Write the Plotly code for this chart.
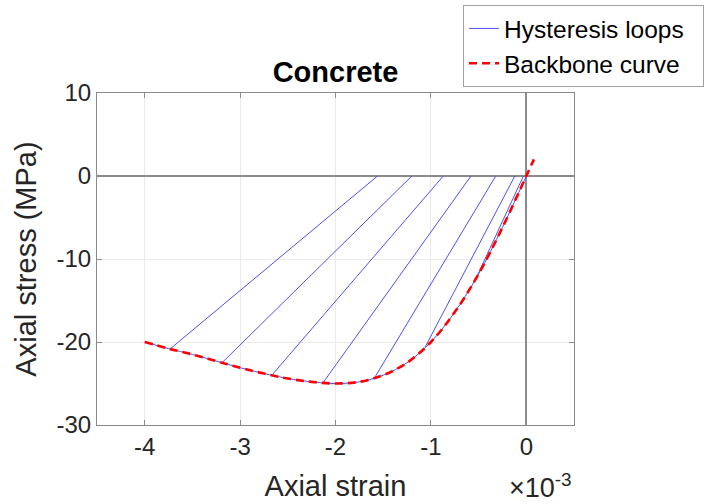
import plotly.graph_objects as go

# Backbone curve (strain in units of 1e-3, stress in MPa)
backbone_strain = [-4.0, -3.75, -3.5, -3.25, -3.0, -2.75, -2.5, -2.25, -2.0, -1.75,
                   -1.5, -1.25, -1.0, -0.75, -0.5, -0.25, 0.0, 0.08]
backbone_stress = [-20.0, -20.8, -21.5, -22.3, -23.1, -23.8, -24.4, -24.8, -25.0, -24.8,
                   -24.0, -22.5, -20.0, -16.4, -11.8, -6.2, 0.0, 2.0]

# Hysteresis loops: unloading point on backbone -> zero-stress point
unload_strain = [-0.55, -1.06, -1.59, -2.13, -2.66, -3.19, -3.73]
unload_stress = [-12.9, -20.6, -24.3, -24.9, -23.9, -22.5, -20.8]
zero_strain = [-0.03, -0.12, -0.32, -0.58, -0.87, -1.20, -1.56]

x_ticks = [-4, -3, -2, -1, 0]
x_tick_labels = ["-4", "-3", "-2", "-1", "0"]
y_ticks = [-30, -20, -10, 0, 10]
y_tick_labels = ["-30", "-20", "-10", "0", "10"]

FONT = "Liberation Sans, Arial, Helvetica, sans-serif"
BLUE = "rgb(80,80,240)"
GREY = "#8a8a8a"
PAD = "\u00a0\u00a0"

loop_x, loop_y = [], []
for xs, ys, xz in zip(unload_strain, unload_stress, zero_strain):
    loop_x += [xs, xz, None]
    loop_y += [ys, 0.0, None]

# blue envelope part follows backbone (up to origin)
env_x = [v for v in backbone_strain if v <= 0]
env_y = [s for v, s in zip(backbone_strain, backbone_stress) if v <= 0]

fig = go.Figure()
fig.add_trace(go.Scatter(x=env_x, y=env_y, mode="lines", line=dict(color=BLUE, width=1, shape="spline"),
                         name="Hysteresis loops", legendgroup="a", showlegend=False, hoverinfo="skip"))
fig.add_trace(go.Scatter(x=loop_x, y=loop_y, mode="lines", line=dict(color=BLUE, width=1),
                         name="Hysteresis loops" + PAD, legendgroup="a", showlegend=True))
fig.add_trace(go.Scatter(x=backbone_strain, y=backbone_stress, mode="lines",
                         line=dict(color="#ff0000", width=2.6, dash="8px,5px", shape="spline"),
                         name="Backbone curve", legendgroup="b"))

axis_common = dict(
    showline=True, linecolor=GREY, linewidth=1, mirror="ticks",
    ticks="inside", ticklen=5, tickcolor=GREY, tickwidth=1,
    showgrid=True, gridcolor="#ebebeb", gridwidth=1,
    zeroline=True, zerolinecolor=GREY, zerolinewidth=1.5,
    tickfont=dict(family=FONT, size=24, color="#262626"),
    automargin=False,
)

fig.update_layout(
    width=704, height=504,
    margin=dict(l=97, r=130, t=93, b=79, autoexpand=False),
    paper_bgcolor="white", plot_bgcolor="white",
    font=dict(family=FONT, color="#262626"),
    title=dict(text="<b>Concrete</b>", x=0.5 * (97 + 574) / 704, xanchor="center",
               y=1 - 72 / 504, yanchor="middle", yref="container",
               font=dict(family=FONT, size=29, color="#000000")),
    xaxis=dict(range=[-4.5, 0.5], tickvals=x_ticks, ticktext=x_tick_labels,
               title=dict(text="Axial strain", font=dict(family=FONT, size=29, color="#262626"), standoff=16),
               **axis_common),
    yaxis=dict(range=[-30, 10], tickvals=y_ticks, ticktext=y_tick_labels,
               title=dict(text="Axial stress (MPa)", font=dict(family=FONT, size=29, color="#262626"), standoff=11),
               **axis_common),
    legend=dict(x=(463 - 97) / 477, y=(425 - 5) / 332, xanchor="left", yanchor="top",
                bordercolor="#a0a0a0", borderwidth=1, bgcolor="white",
                font=dict(family=FONT, size=24.5, color="#000000"),
                tracegroupgap=0, traceorder="grouped"),
    showlegend=True,
)

fig.add_annotation(text="×10<sup>-3</sup>", xref="paper", yref="paper", x=1.0, y=-0.185,
                   xanchor="right", yanchor="middle", showarrow=False,
                   font=dict(family=FONT, size=27, color="#262626"))

fig.write_html("out.html", post_script="document.body.style.margin='0';",
               config={"displayModeBar": False})
